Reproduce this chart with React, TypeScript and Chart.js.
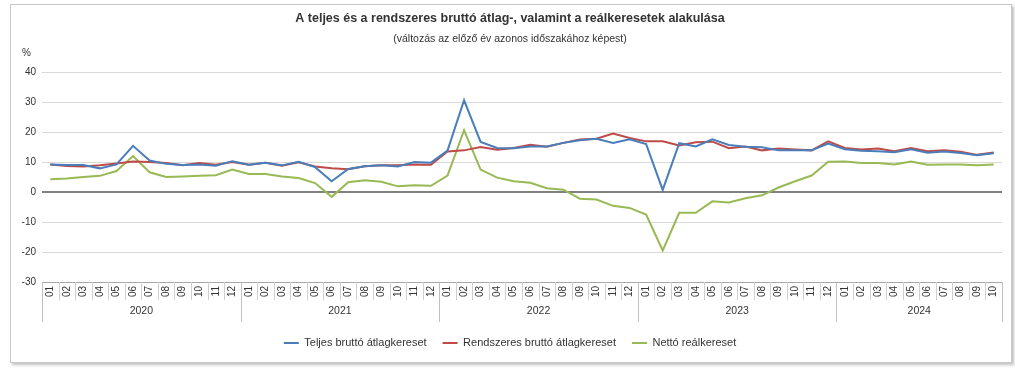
import React, { useEffect, useRef } from "react";
import { Chart, registerables } from "chart.js";

Chart.register(...registerables);

const months = ["01", "02", "03", "04", "05", "06", "07", "08", "09", "10", "11", "12"];
const years = ["2020", "2021", "2022", "2023", "2024"];
const monthsInYear = [12, 12, 12, 12, 10];

const seriesNames = [
  "Teljes bruttó átlagkereset",
  "Rendszeres bruttó átlagkereset",
  "Nettó reálkereset",
];

const teljes = [
  9.2, 9.0, 9.0, 7.9, 9.2, 15.4, 10.5, 9.4, 9.0, 9.2, 8.8, 10.3,
  9.1, 9.8, 8.9, 10.1, 8.3, 3.6, 7.7, 8.6, 8.9, 8.5, 10.0, 9.8,
  13.8, 30.6, 16.7, 14.7, 14.6, 15.2, 15.2, 16.4, 17.3, 17.8, 16.4, 17.6,
  16.0, 0.7, 16.3, 15.2, 17.6, 15.7, 15.1, 14.9, 13.9, 13.9, 13.9, 16.2,
  14.3, 13.8, 13.6, 13.3, 14.3, 13.1, 13.5, 13.0, 12.3, 12.9,
];

const rendszeres = [
  9.2, 8.7, 8.5, 8.9, 9.5, 10.2, 10.0, 9.7, 8.9, 9.7, 9.1, 10.0,
  9.1, 9.8, 8.8, 9.9, 8.5, 7.9, 7.6, 8.6, 8.9, 8.9, 9.2, 9.1,
  13.5, 13.9, 15.0, 14.1, 14.7, 15.8, 15.1, 16.4, 17.5, 17.8, 19.5, 18.0,
  16.9, 16.9, 15.5, 16.6, 16.8, 14.6, 15.2, 13.9, 14.5, 14.2, 13.9, 16.9,
  14.7, 14.2, 14.5, 13.6, 14.7, 13.6, 13.9, 13.4, 12.4, 13.2,
];

const netto = [
  4.3, 4.5, 5.0, 5.4, 7.0, 12.0, 6.6, 5.0, 5.2, 5.4, 5.6, 7.5,
  6.0, 6.0, 5.2, 4.7, 3.0, -1.6, 3.3, 3.9, 3.4, 1.9, 2.3, 2.1,
  5.5, 20.6, 7.5, 4.8, 3.6, 3.1, 1.3, 0.8, -2.2, -2.5, -4.6, -5.3,
  -7.5, -19.5, -6.9, -6.9, -3.1, -3.5, -2.1, -1.1, 1.5, 3.6, 5.5, 10.1,
  10.2, 9.7, 9.7, 9.2, 10.2, 9.1, 9.2, 9.2, 8.9, 9.2,
];

const yMin = -30;
const yMax = 40;
const yStep = 10;

const colors = ["#4a7ebb", "#be4b48", "#98b954"];
const FONT = '"Liberation Sans", Arial, sans-serif';

const labels: string[] = [];
years.forEach((y, yi) => {
  for (let m = 0; m < monthsInYear[yi]; m++) labels.push(months[m]);
});

const axisDecor = {
  id: "axisDecor",
  afterDraw(chart: any) {
    const ctx = chart.ctx;
    const xs = chart.scales.x;
    const area = chart.chartArea;
    const half = (xs.getPixelForValue(1) - xs.getPixelForValue(0)) / 2;
    const top = area.bottom;
    ctx.save();
    // month separators
    ctx.lineWidth = 1;
    ctx.strokeStyle = "#d0d0d0";
    for (let i = 0; i <= labels.length; i++) {
      const px = Math.round(xs.getPixelForValue(0) - half + i * 2 * half) + 0.5;
      ctx.beginPath();
      ctx.moveTo(px, top);
      ctx.lineTo(px, top + 18);
      ctx.stroke();
    }
    // year separators and labels
    let idx = 0;
    ctx.strokeStyle = "#c0c0c0";
    ctx.fillStyle = "#333";
    ctx.font = "10.5px " + FONT;
    ctx.textAlign = "center";
    ctx.textBaseline = "middle";
    const drawSep = (i: number) => {
      const px = Math.round(xs.getPixelForValue(0) - half + i * 2 * half) + 0.5;
      ctx.beginPath();
      ctx.moveTo(px, top);
      ctx.lineTo(px, top + 40);
      ctx.stroke();
    };
    drawSep(0);
    years.forEach((y, yi) => {
      const n = monthsInYear[yi];
      const c = (xs.getPixelForValue(idx) + xs.getPixelForValue(idx + n - 1)) / 2;
      ctx.fillText(y, c, top + 29);
      idx += n;
      drawSep(idx);
    });
    // unit label
    ctx.textAlign = "left";
    ctx.font = "10px " + FONT;
    ctx.fillText("%", 22, 53);
    ctx.restore();
  },
};

export default function App() {
  const ref = useRef<HTMLCanvasElement | null>(null);

  useEffect(() => {
    document.body.style.margin = "0";
    const canvas = ref.current!;
    const chart = new Chart(canvas, {
      type: "line",
      data: {
        labels,
        datasets: [teljes, rendszeres, netto].map((d, i) => ({
          label: seriesNames[i],
          data: d,
          borderColor: colors[i],
          backgroundColor: colors[i],
          borderWidth: 2,
          pointRadius: 0,
          pointHoverRadius: 0,
          tension: 0,
          fill: false,
        })),
      },
      options: {
        responsive: false,
        animation: false,
        devicePixelRatio: 1,
        layout: { padding: { left: 18, right: 13, top: 0, bottom: 10.5 } },
        plugins: {
          title: {
            display: true,
            text: "A teljes és a rendszeres bruttó átlag-, valamint a reálkeresetek alakulása",
            color: "#333",
            font: { family: FONT, size: 12.5, weight: "bold" },
            padding: { top: 11.5, bottom: 0 },
          },
          subtitle: {
            display: true,
            text: "(változás az előző év azonos időszakához képest)",
            color: "#333",
            font: { family: FONT, size: 10.5 },
            padding: { top: 6.5, bottom: 26.5 },
          },
          legend: {
            position: "bottom",
            labels: {
              boxWidth: 15,
              boxHeight: 2,
              padding: 16,
              color: "#333",
              font: { family: FONT, size: 11 },
              generateLabels: (ch: any) =>
                Chart.defaults.plugins.legend.labels
                  .generateLabels(ch)
                  .map((it: any) => ({ ...it, lineWidth: 0, fillStyle: it.strokeStyle })),
            },
          },
          tooltip: { enabled: false },
        },
        scales: {
          x: {
            type: "category",
            offset: true,
            grid: { display: false, drawTicks: false },
            border: { display: true, color: "#a8a8a8", width: 1 },
            ticks: {
              autoSkip: false,
              maxRotation: 90,
              minRotation: 90,
              padding: 4,
              color: "#333",
              font: { family: FONT, size: 10 },
            },
            afterFit: (s: any) => {
              s.height = 39.5;
            },
          },
          y: {
            min: yMin,
            max: yMax,
            ticks: {
              stepSize: yStep,
              padding: 6,
              color: "#333",
              font: { family: FONT, size: 10 },
            },
            grid: {
              drawTicks: false,
              color: (c: any) => (c.tick && c.tick.value === 0 ? "#808080" : "#d9d9d9"),
              lineWidth: (c: any) => (c.tick && c.tick.value === 0 ? 2 : 1),
            },
            border: { display: false },
            afterFit: (s: any) => {
              s.width = 24;
            },
          },
        },
      },
      plugins: [axisDecor],
    });
    return () => chart.destroy();
  }, []);

  return (
    <div style={{ position: "relative", width: 1015, height: 369 }}>
      <div
        style={{
          position: "absolute",
          left: 10,
          top: 4,
          width: 1000,
          height: 357,
          border: "1px solid #c8c8c8",
          boxShadow: "2px 2px 3px rgba(0,0,0,0.25)",
          background: "#fff",
        }}
      />
      <canvas
        ref={ref}
        width={1015}
        height={369}
        style={{ position: "absolute", left: 0, top: 0, width: 1015, height: 369 }}
      />
    </div>
  );
}
